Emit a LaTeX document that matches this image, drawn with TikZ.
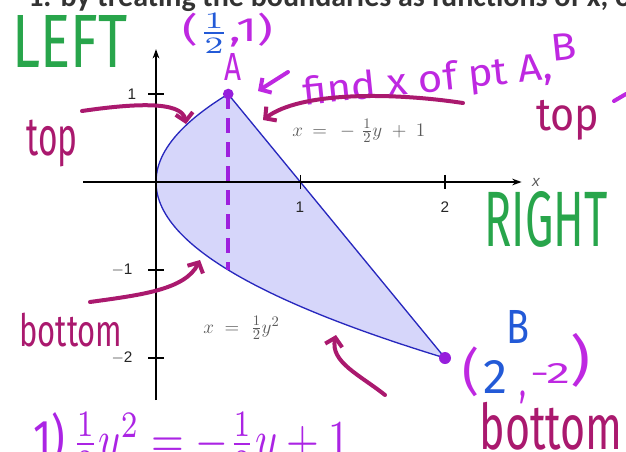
\documentclass[tikz,border=0pt]{standalone}
\usepackage{graphicx}
\usepackage{amsmath}
\usepackage{fontspec}
\setmainfont{Fira Sans}
\newfontfamily\axfont{Liberation Sans}
\newfontfamily\topfont{Carlito}
\usetikzlibrary{arrows.meta}
\newlength\mypx \setlength\mypx{0.75pt}
\newcommand\hwt[3]{\resizebox*{#1\mypx}{#2\mypx}{#3}}
\definecolor{hgreen}{RGB}{40,165,75}
\definecolor{hpurp}{RGB}{190,40,225}
\definecolor{hblue}{RGB}{35,90,215}
\definecolor{hmar}{RGB}{170,25,110}
\definecolor{rfill}{RGB}{214,214,250}
\definecolor{rline}{RGB}{40,40,190}
\definecolor{dotc}{RGB}{150,30,220}
\definecolor{eqgray}{RGB}{90,90,90}
\tikzset{
  hw/.style={inner sep=0pt, outer sep=0pt},
  harrow/.style={line width=3pt, line cap=round, line join=round,
     -{Straight Barb[length=6pt,width=13pt,line width=3pt]}},
  axis/.style={line width=1.1pt, -{Stealth[length=7pt,width=5pt]}},
  tick/.style={line width=0.8pt},
  axlab/.style={font=\axfont\fontsize{11.5}{13}\selectfont, text=black!85, inner sep=0pt},
  eqlab/.style={text=eqgray, inner sep=0pt, font=\fontsize{15}{18}\selectfont}
}
\begin{document}
\begin{tikzpicture}[x=0.75pt,y=-0.75pt]
\useasboundingbox (0,0) rectangle (626,451);
% cut-off heading
\node[anchor=base west, inner sep=0pt, font=\topfont\bfseries\fontsize{22.5}{25}\selectfont, text=black!80] (head) at (28,6) {1. by treating the boundaries as functions of x, o};
% region
\begin{scope}[shift={(156,182)}, x=108.375pt, y=66pt]
  \coordinate (O) at (0,0);
  \coordinate (A) at (0.5,1);
  \coordinate (B) at (2,-2);
  \coordinate (P) at (0.5,-1);
  \filldraw[fill=rfill, draw=rline, line width=1pt, line join=round]
     plot[domain=-2:1, samples=80, smooth] ({\x*\x/2},\x) -- cycle;
  \coordinate (xl) at (-0.505,0);
  \coordinate (xr) at (2.53,0);
  \coordinate (yb) at (0,-2.48);
  \coordinate (yt) at (0,1.51);
  \draw[axis] (xl) -- (xr);
  \draw[axis] (yb) -- (yt);
  \foreach \t in {1,2} \draw[tick] (\t,0.08) -- (\t,-0.08);
  \foreach \t in {1,-1,-2} \draw[tick] (-0.055,\t) -- (0.055,\t);
  \draw[dotc!80!hpurp, line width=3pt, dash pattern=on 11pt off 7pt] (A) -- (P);
  \fill[dotc] (A) circle (4pt);
  \fill[dotc] (B) circle (4.5pt);
\end{scope}
% axis labels
\node[axlab] (l1x) at (300,207) {1};
\node[axlab] (l2x) at (445,207) {2};
\node[axlab] (l1y) at (132,94) {1};
\node[axlab] (lm1y) at (122,270) {$-$1};
\node[axlab] (lm2y) at (122,358) {$-$2};
\node[axlab, text=eqgray] (xlab) at (536,182) {\itshape x};
% equation labels
\node[eqlab, anchor=west] (eq1) at (292,131) {$x\hspace{3pt}=\hspace{6pt}-\hspace{5pt}\tfrac{1}{2}y\hspace{4pt}+\hspace{4pt}1$};
\node[eqlab, anchor=west] (eq2) at (203,328) {$x\hspace{4pt}=\hspace{5pt}\tfrac{1}{2}y^2$};
% handwriting
\node[hw, text=hgreen] (left) at (70,41) {\hwt{115}{52}{LEFT}};
\node[hw, text=hgreen] (right) at (546,219) {\hwt{123}{56}{RIGHT}};
\node[hw] (ahalf) at (228,33) {\hwt{90}{40}{\textcolor{hpurp}{(}\textcolor{hblue}{$\frac{1}{2}$}\textcolor{hpurp}{,1)}}};
\node[hw, text=hpurp] (Alab) at (233,67) {\hwt{17}{27}{A}};
\node[hw, text=hpurp, rotate=6] (find) at (440,73) {\hwt{276}{52}{find x of pt A,\raisebox{0.45em}{B}}};
\node[hw, text=hmar] (topl) at (52,143) {\hwt{51}{47}{top}};
\node[hw, text=hmar] (topr) at (568,120) {\hwt{63}{40}{top}};
\node[hw, text=hmar] (botl) at (71,330) {\hwt{103}{34}{bottom}};
\node[hw, text=hmar] (botr) at (551,426) {\hwt{143}{48}{bottom}};
\node[hw, text=hblue] (Blab) at (518,327) {\hwt{23}{33}{B}};
\node[hw, text=hpurp] (bpl) at (471,372) {\hwt{17}{50}{(}};
\node[hw, text=hblue] (b2) at (495,377) {\hwt{24}{33}{2}};
\node[hw, text=hpurp] (bcm) at (523,397) {\hwt{7}{13}{,}};
\node[hw, text=hpurp] (bm2) at (550,373) {\hwt{40}{20}{-2}};
\node[hw, text=hpurp] (bpr) at (580,360) {\hwt{20}{54}{)}};
\node[hw, anchor=base west, text=hpurp!90!blue] (eqb) at (33,457) {\resizebox{317\mypx}{45\mypx}{1)\,$\frac{1}{2}y^2=-\frac{1}{2}y+1$}};
% hand arrows
\coordinate (t1) at (82,111);
\coordinate (h1) at (186,124);
\draw[harrow, hmar] (t1) .. controls (130,104) and (182,100) .. (h1);
\coordinate (t2) at (463,103);
\coordinate (h2) at (263,120);
\draw[harrow, hmar] (t2) .. controls (390,92) and (300,92) .. (h2);
\coordinate (t3) at (288,72);
\coordinate (h3) at (258,91);
\draw[harrow, hpurp] (t3) -- (h3);
\coordinate (t4) at (90,302);
\coordinate (h4) at (200,260);
\draw[harrow, hmar] (t4) .. controls (140,295) and (185,290) .. (h4);
\coordinate (t5) at (385,395);
\coordinate (h5) at (336,335);
\draw[harrow, hmar] (t5) .. controls (360,375) and (330,362) .. (h5);
\coordinate (f1) at (614,101);
\coordinate (f2) at (626,94);
\draw[hpurp, line width=3pt, line cap=round] (f1) -- (f2);
\end{tikzpicture}
\end{document}
